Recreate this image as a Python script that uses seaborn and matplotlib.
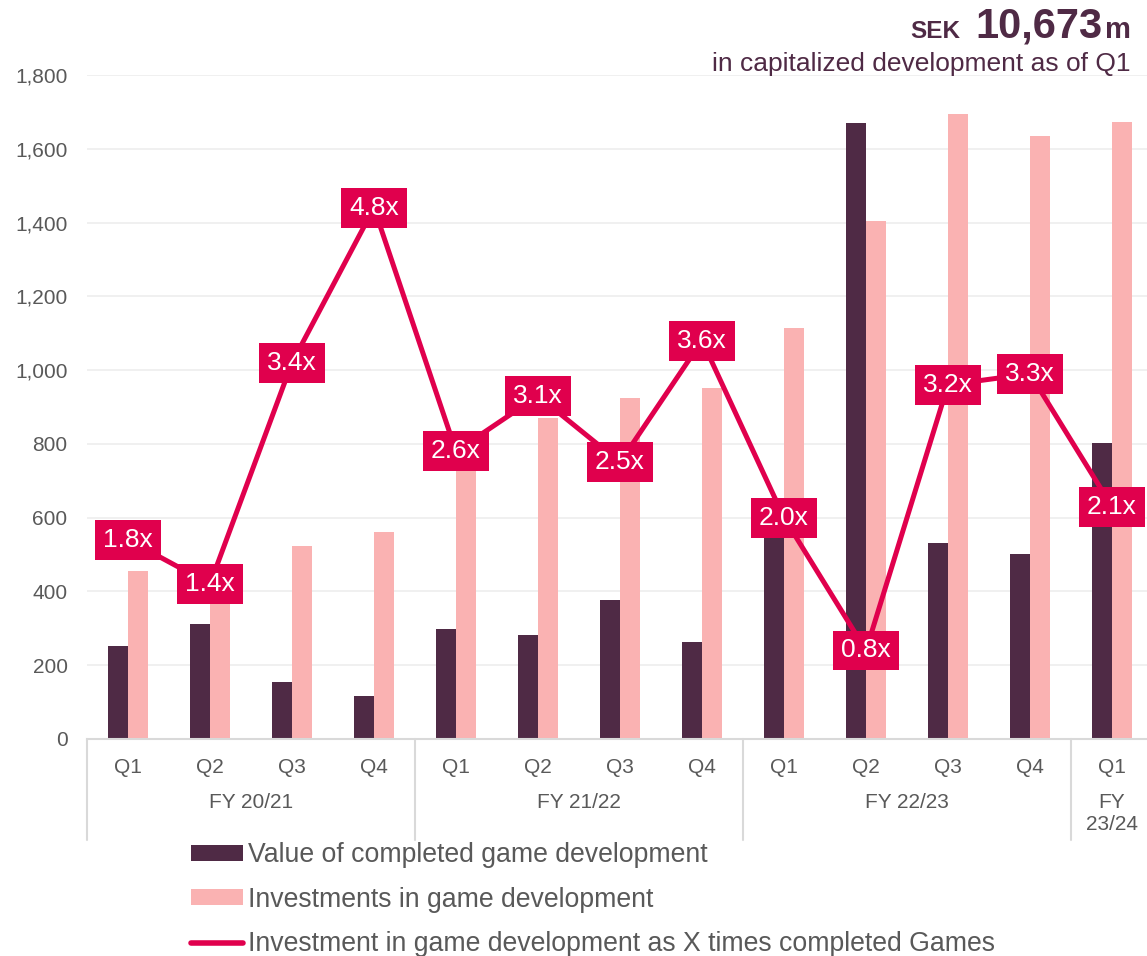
import seaborn as sns
import matplotlib.pyplot as plt
import numpy as np
import pandas as pd
from matplotlib.patches import Patch
from matplotlib.lines import Line2D

# Capitalized game development: completed value vs investments, per quarter

quarters = ["Q1", "Q2", "Q3", "Q4", "Q1", "Q2", "Q3", "Q4", "Q1", "Q2", "Q3", "Q4", "Q1"]
fiscal_years = ["FY 20/21", "FY 21/22", "FY 22/23", "FY\n23/24"]
quarters_per_year = [4, 4, 4, 1]
completed = [253, 312, 155, 116, 297, 281, 377, 263, 545, 1671, 531, 501, 802]
investments = [456, 435, 523, 562, 775, 871, 924, 951, 1114, 1405, 1695, 1634, 1672]
multiple = [1.8, 1.4, 3.4, 4.8, 2.6, 3.1, 2.5, 3.6, 2.0, 0.8, 3.2, 3.3, 2.1]

dark = "#4F2A45"
pink = "#FAB2B2"
crimson = "#E0004D"
grey_text = "#595959"

year_of_q = []
for fy, n in zip(fiscal_years, quarters_per_year):
    year_of_q += [fy] * n
periods = [f"{q} {fy}" for q, fy in zip(quarters, year_of_q)]

df = pd.DataFrame({
    "period": periods * 2,
    "value": completed + investments,
    "series": ["Value of completed game development"] * len(periods)
    + ["Investments in game development"] * len(periods),
})

sns.set_theme(style="white")
plt.rcParams["font.family"] = ["Liberation Sans", "DejaVu Sans"]

fig = plt.figure(figsize=(11.47, 9.56), dpi=100)
W, H = 1147, 956
ax = fig.add_axes([87 / W, (H - 739) / H, 1066 / W, 664 / H])

sns.barplot(
    data=df, x="period", y="value", hue="series", order=periods,
    palette=[dark, pink], width=0.48, gap=0, ax=ax, legend=False,
    saturation=1, linewidth=0,
)
ax.set_xlim(-0.5, len(periods) - 0.5)
ax.set_ylim(0, 1800)
ax.set_yticks(np.arange(0, 1801, 200))
ax.set_yticklabels([f"{v:,}" for v in range(0, 1801, 200)], fontsize=15, color=grey_text)
ax.tick_params(axis="y", length=0, pad=14)
ax.set_xticks(range(len(periods)))
ax.set_xticklabels(quarters, fontsize=15, color=grey_text)
ax.tick_params(axis="x", length=0, pad=14)
ax.set_xlabel("")
ax.set_ylabel("")
ax.yaxis.grid(True, color="#EEEEEE", linewidth=1.2)
ax.set_axisbelow(True)
for s in ["top", "right", "left"]:
    ax.spines[s].set_visible(False)
ax.spines["bottom"].set_color("#D9D9D9")
ax.spines["bottom"].set_linewidth(1.5)

# fiscal year group labels and separators
trans = ax.get_xaxis_transform()
sep_bottom = -(840 - 739) / 664
start = -0.5
for fy, n in zip(fiscal_years, quarters_per_year):
    ax.plot([start, start], [0, sep_bottom], transform=trans, color="#D9D9D9",
            linewidth=1.5, clip_on=False)
    center = start + n / 2
    if "\n" in fy:
        ax.text(center, -(814 - 739) / 664, fy, transform=trans, ha="center", va="center",
                fontsize=15, color=grey_text, linespacing=1.2)
    else:
        ax.text(center, -(802 - 739) / 664, fy, transform=trans, ha="center", va="center",
                fontsize=15, color=grey_text)
    start += n

# multiple line on secondary scale
ax2 = ax.twinx()
ax2.set_ylim(0, 6)
sns.lineplot(x=np.arange(len(periods)), y=multiple, color=crimson, linewidth=3.6,
             ax=ax2, zorder=3)
ax2.axis("off")
for i, m in enumerate(multiple):
    ax2.text(i, m, f"{m:.1f}x", ha="center", va="center", fontsize=19, color="white",
             zorder=4, bbox=dict(boxstyle="square,pad=0.3", fc=crimson, ec="none"))

# headline
fig.text(1131 / W, 1 - 38 / H, "m", ha="right", va="baseline", fontsize=21,
         fontweight="bold", color=dark)
fig.text(1103 / W, 1 - 38 / H, "10,673", ha="right", va="baseline", fontsize=30,
         fontweight="bold", color=dark)
fig.text(960 / W, 1 - 38 / H, "SEK", ha="right", va="baseline", fontsize=17.5,
         fontweight="bold", color=dark)
fig.text(1131 / W, 1 - 71 / H, "in capitalized development as of Q1", ha="right",
         va="baseline", fontsize=19, color=dark)

handles = [
    Patch(facecolor=dark, edgecolor="none"),
    Patch(facecolor=pink, edgecolor="none"),
    Line2D([0], [0], color=crimson, linewidth=4),
]
labels = [
    "Value of completed game development",
    "Investments in game development",
    "Investment in game development as X times completed Games",
]
fig.legend(handles, labels, loc="upper left", bbox_to_anchor=(191 / W, 1 - 842 / H),
           frameon=False, fontsize=19.2, handlelength=1.95, handleheight=0.55,
           handletextpad=0.2, labelspacing=0.7, borderpad=0, borderaxespad=0,
           labelcolor=grey_text)

fig.savefig("out.png", dpi=100)
